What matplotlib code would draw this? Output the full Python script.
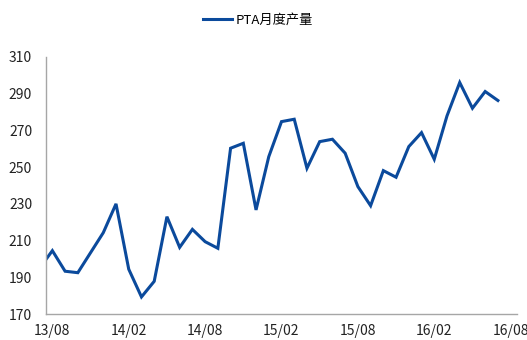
import matplotlib
matplotlib.use("Agg")
import matplotlib.pyplot as plt

plt.rcParams['font.family'] = ['Noto Sans CJK SC', 'DejaVu Sans']

# 月度产量（万吨），13/07 - 16/07
months = ["13/07", "13/08", "13/09", "13/10", "13/11", "13/12",
          "14/01", "14/02", "14/03", "14/04", "14/05", "14/06",
          "14/07", "14/08", "14/09", "14/10", "14/11", "14/12",
          "15/01", "15/02", "15/03", "15/04", "15/05", "15/06",
          "15/07", "15/08", "15/09", "15/10", "15/11", "15/12",
          "16/01", "16/02", "16/03", "16/04", "16/05", "16/06",
          "16/07"]
output = [195, 204.5, 193.3, 192.5, 203.4, 214.3,
          230, 194.4, 179.3, 187.8, 223, 206.3,
          216.1, 209.4, 205.8, 260.3, 263, 226.7,
          255.7, 274.8, 276.1, 249.4, 263.9, 265.2,
          257.6, 239.4, 229, 248.1, 244.5, 261.2,
          268.8, 254.3, 277.9, 296.1, 282.1, 291.2,
          286.3]
tick_labels = ["13/08", "14/02", "14/08", "15/02", "15/08", "16/02", "16/08"]
tick_pos = [1, 7, 13, 19, 25, 31, 37]

fig = plt.figure(figsize=(5.27, 3.4), dpi=100)
ax = fig.add_axes([46 / 527, 26 / 340, 471 / 527, 257 / 340])

ax.plot(range(len(output)), output, color="#0b4a9c", lw=2.2,
        label="PTA月度产量", solid_joinstyle="miter")

ax.set_xlim(0.5, 37.5)
ax.set_ylim(170, 310)
ax.set_yticks(range(170, 311, 20))
ax.set_xticks(tick_pos)
ax.set_xticklabels(tick_labels)
ax.tick_params(length=0, labelsize=10, colors="#222222")
ax.tick_params(axis="y", pad=10)
ax.tick_params(axis="x", pad=7)

for side in ["top", "right"]:
    ax.spines[side].set_visible(False)
for side in ["left", "bottom"]:
    ax.spines[side].set_color("#a6a6a6")
    ax.spines[side].set_linewidth(1)

fig.legend(loc="center", bbox_to_anchor=(258 / 527, 1 - 20 / 340),
           frameon=False, fontsize=9.5, handlelength=2.2, handletextpad=0.3)

fig.savefig("out.png", dpi=100)
